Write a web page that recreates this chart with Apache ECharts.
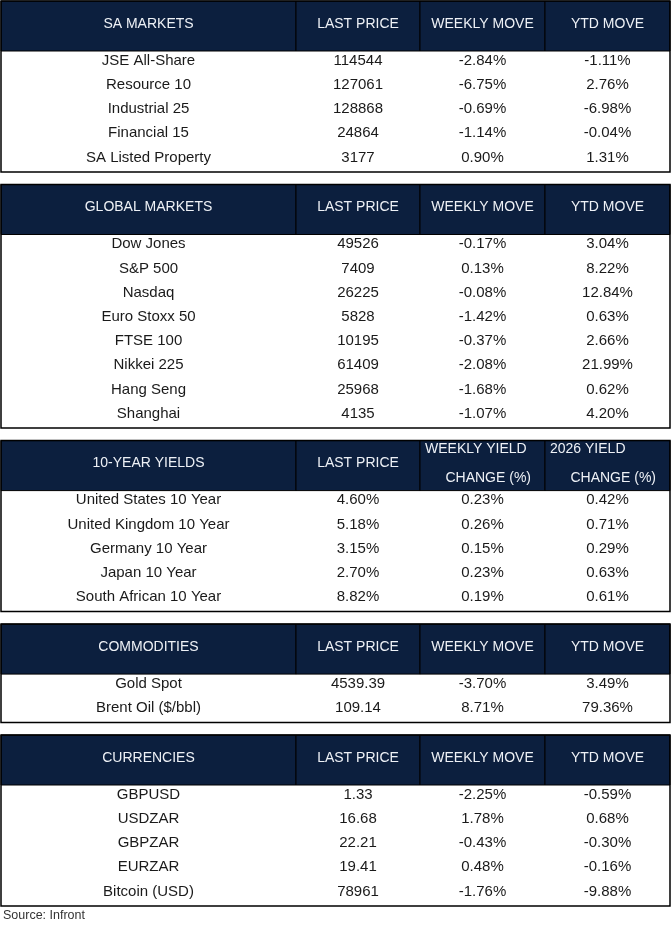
<!DOCTYPE html>
<html>
<head>
  <meta charset="UTF-8">
  <script src="https://cdn.jsdelivr.net/npm/echarts@6/dist/echarts.min.js"></script>
  <style>
    html, body { margin: 0; padding: 0; background: #fff; }
    #mychart { width: 671px; height: 928px; }
  </style>
</head>
<body>
  <div id="mychart"></div>

  <script type="text/javascript">
    // table contents
    var saNames = ['JSE All-Share', 'Resource 10', 'Industrial 25', 'Financial 15', 'SA Listed Property'];
    var saPrice = [114544, 127061, 128868, 24864, 3177];
    var saWeekly = [-2.84, -6.75, -0.69, -1.14, 0.90];
    var saYtd = [-1.11, 2.76, -6.98, -0.04, 1.31];

    var glNames = ['Dow Jones', 'S&P 500', 'Nasdaq', 'Euro Stoxx 50', 'FTSE 100', 'Nikkei 225', 'Hang Seng', 'Shanghai'];
    var glPrice = [49526, 7409, 26225, 5828, 10195, 61409, 25968, 4135];
    var glWeekly = [-0.17, 0.13, -0.08, -1.42, -0.37, -2.08, -1.68, -1.07];
    var glYtd = [3.04, 8.22, 12.84, 0.63, 2.66, 21.99, 0.62, 4.20];

    var yldNames = ['United States 10 Year', 'United Kingdom 10 Year', 'Germany 10 Year', 'Japan 10 Year', 'South African 10 Year'];
    var yldPrice = [4.60, 5.18, 3.15, 2.70, 8.82];
    var yldWeekly = [0.23, 0.26, 0.15, 0.23, 0.19];
    var yldYtd = [0.42, 0.71, 0.29, 0.63, 0.61];

    var comNames = ['Gold Spot', 'Brent Oil ($/bbl)'];
    var comPrice = [4539.39, 109.14];
    var comWeekly = [-3.70, 8.71];
    var comYtd = [3.49, 79.36];

    var fxNames = ['GBPUSD', 'USDZAR', 'GBPZAR', 'EURZAR', 'Bitcoin (USD)'];
    var fxPrice = [1.33, 16.68, 22.21, 19.41, 78961];
    var fxWeekly = [-2.25, 1.78, -0.43, 0.48, -1.76];
    var fxYtd = [-0.59, 0.68, -0.30, -0.16, -9.88];

    var moveHeads = ['LAST PRICE', 'WEEKLY MOVE', 'YTD MOVE'];
    var yieldHeads = ['LAST PRICE', 'WEEKLY YIELD\nCHANGE (%)', '2026 YIELD\nCHANGE (%)'];

    // layout
    var HEADER_H = 50, ROW_H = 24.2, GAP = 12.5, TOP = 1;
    var colEdges = [1, 296, 420, 545, 670];
    var NAVY = '#0c1f3e';
    var FONT = '"Liberation Sans", Arial, sans-serif';
    var HEAD_FONT = '14px ' + FONT;
    var CELL_FONT = '15px ' + FONT;

    function plain(v) { return String(v); }
    function pct(v) { return v.toFixed(2) + '%'; }

    var tables = [
      { title: 'SA MARKETS', heads: moveHeads, names: saNames, cols: [saPrice, saWeekly, saYtd], fmt: [plain, pct, pct] },
      { title: 'GLOBAL MARKETS', heads: moveHeads, names: glNames, cols: [glPrice, glWeekly, glYtd], fmt: [plain, pct, pct] },
      { title: '10-YEAR YIELDS', heads: yieldHeads, names: yldNames, cols: [yldPrice, yldWeekly, yldYtd], fmt: [pct, pct, pct] },
      { title: 'COMMODITIES', heads: moveHeads, names: comNames, cols: [comPrice, comWeekly, comYtd], fmt: [plain, pct, pct] },
      { title: 'CURRENCIES', heads: moveHeads, names: fxNames, cols: [fxPrice, fxWeekly, fxYtd], fmt: [plain, pct, pct] }
    ];

    // build cells in axis units (pixels of the 671x928 page)
    var cells = [];
    var frames = [];
    var y = TOP;
    tables.forEach(function (t) {
      var heads = [t.title].concat(t.heads);
      heads.forEach(function (h, c) {
        cells.push({ kind: 'head', x0: colEdges[c], x1: colEdges[c + 1], y0: y, y1: y + HEADER_H, text: h });
      });
      var rowTop = y + HEADER_H;
      t.names.forEach(function (name, r) {
        var texts = [name].concat(t.cols.map(function (col, k) { return t.fmt[k](col[r]); }));
        texts.forEach(function (txt, c) {
          cells.push({ kind: 'cell', x0: colEdges[c], x1: colEdges[c + 1], y0: rowTop + r * ROW_H, y1: rowTop + (r + 1) * ROW_H, text: txt });
        });
      });
      var bottom = rowTop + t.names.length * ROW_H;
      frames.push({ kind: 'frame', x0: colEdges[0], x1: colEdges[4], y0: y, y1: bottom, text: '' });
      y = bottom + GAP;
    });
    cells = cells.concat(frames);

    function renderItem(params, api) {
      var cell = cells[params.dataIndex];
      var p0 = api.coord([api.value(0), api.value(1)]);
      var p1 = api.coord([api.value(2), api.value(3)]);
      var w = p1[0] - p0[0], h = p1[1] - p0[1];
      var cx = p0[0] + w / 2;
      if (cell.kind === 'frame') {
        return { type: 'rect', shape: { x: p0[0], y: p0[1], width: w, height: h },
                 style: { fill: 'none', stroke: '#000', lineWidth: 1.5 } };
      }
      if (cell.kind === 'head') {
        var children = [{ type: 'rect', shape: { x: p0[0], y: p0[1], width: w, height: h },
                          style: { fill: NAVY, stroke: '#000', lineWidth: 1 } }];
        var lines = cell.text.split('\n');
        if (lines.length === 1) {
          children.push({ type: 'text', style: { text: cell.text, x: cx, y: p0[1] + h / 2 - 2,
            align: 'center', verticalAlign: 'middle', fill: '#eef1f6', font: HEAD_FONT } });
        } else {
          children.push({ type: 'text', style: { text: lines[0], x: p0[0] + 5, y: p0[1] + 9,
            align: 'left', verticalAlign: 'middle', fill: '#eef1f6', font: HEAD_FONT } });
          children.push({ type: 'text', style: { text: lines[1], x: p1[0] - 14, y: p0[1] + 38,
            align: 'right', verticalAlign: 'middle', fill: '#eef1f6', font: HEAD_FONT } });
        }
        return { type: 'group', children: children };
      }
      return { type: 'text', style: { text: cell.text, x: cx, y: p0[1] + h * 0.4,
        align: 'center', verticalAlign: 'middle', fill: '#1a1a1a', font: CELL_FONT } };
    }

    var myChart = echarts.init(document.getElementById('mychart'));
    myChart.setOption({
      animation: false,
      grid: { left: 0, right: 0, top: 0, bottom: 0 },
      xAxis: { type: 'value', min: 0, max: 671, show: false },
      yAxis: { type: 'value', min: 0, max: 928, inverse: true, show: false },
      graphic: [{
        type: 'text', left: 3, top: 909,
        style: { text: 'Source: Infront', fill: '#333', font: '12.5px ' + FONT }
      }],
      series: [{
        type: 'custom',
        renderItem: renderItem,
        clip: false,
        data: cells.map(function (c) { return [c.x0, c.y0, c.x1, c.y1]; })
      }]
    });
  </script>
</body>
</html>
